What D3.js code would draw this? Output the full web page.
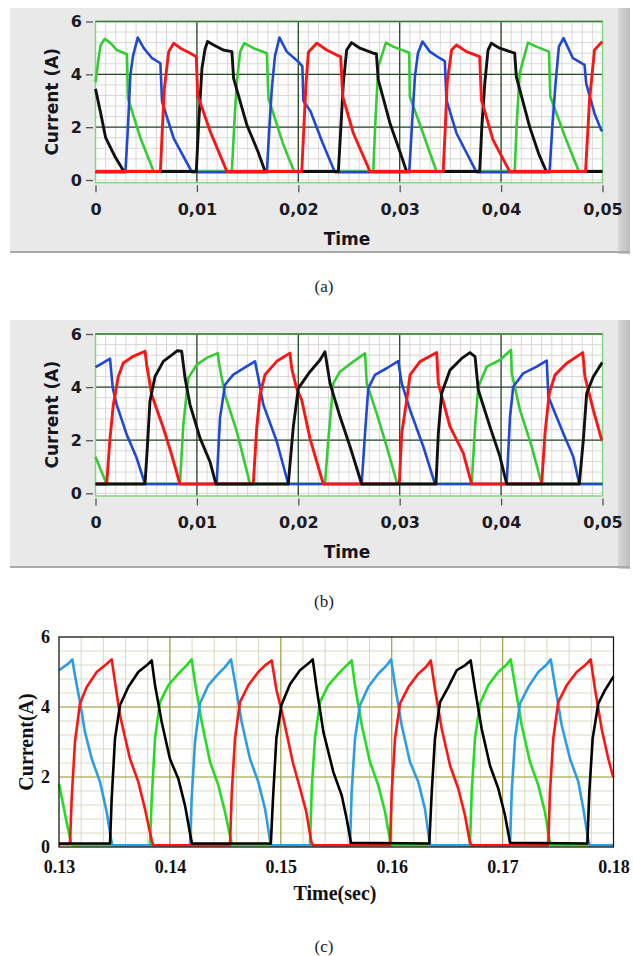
<!DOCTYPE html>
<html lang="en">
<head>
<meta charset="utf-8">
<title>Phase currents</title>
<script src="https://d3js.org/d3.v7.min.js"></script>
<style>
  body { margin: 0; background: #fff; }
  svg { display: block; }
</style>
</head>
<body>
<script>
// ---- data: [time (ms), current (A)] ----
var aGreen = [[0,3.7],[0.3,4.6],[0.5,5.1],[0.9,5.34],[1.5,5.18],[2.1,4.92],[3.1,4.76],[3.2,3.1],[4.43,1.59],[5.74,0.32],
  [13.45,0.32],[13.7,2.2],[13.94,3.72],[14.27,4.86],[14.67,5.18],[15.58,4.99],[16.9,4.8],[17.06,3.09],[18.53,1.33],[19.59,0.32],
  [27.39,0.32],[27.6,2.2],[27.89,4.29],[28.64,5.2],[29.36,5.05],[30.94,4.82],[31.0,3.16],[32.3,1.77],[33.63,0.32],
  [41.34,0.32],[41.55,2.2],[41.83,4.04],[42.65,5.2],[43.47,5.05],[44.72,4.86],[44.85,3.16],[46.42,1.52],[47.67,0.32],[50,0.32]];
var aBlue = [[0,0.3],[2.95,0.3],[3.2,2.0],[3.44,3.98],[3.7,4.7],[4.17,5.39],[4.76,4.99],[5.58,4.61],[6.4,4.42],[6.56,2.97],[7.71,1.58],[9.51,0.3],
  [16.9,0.3],[17.15,2.0],[17.39,3.47],[17.7,4.7],[18.14,5.39],[18.86,4.86],[20.0,4.48],[20.4,4.3],[20.5,3.0],[21.2,2.6],[22.4,1.4],[23.6,0.3],
  [30.94,0.3],[31.2,2.0],[31.5,3.91],[31.8,4.8],[32.25,5.24],[32.97,4.86],[33.96,4.61],[34.45,4.5],[34.61,3.03],[35.6,1.77],[37.57,0.3],
  [44.78,0.3],[45.05,2.0],[45.37,3.66],[45.7,5.05],[46.16,5.37],[47.08,4.61],[48.23,4.36],[48.39,3.66],[49.21,2.52],[49.87,1.89],[50,1.85]];
var aRed = [[0,0.32],[6.4,0.32],[6.6,2.0],[6.79,3.47],[7.22,4.86],[7.71,5.18],[8.37,4.99],[9.35,4.8],[9.94,4.67],[10.07,3.22],[11.32,1.83],[12.96,0.32],
  [20.34,0.32],[20.55,2.0],[20.75,3.6],[21.0,4.85],[21.82,5.18],[22.8,4.92],[23.79,4.73],[24.18,4.67],[24.38,3.16],[25.43,1.77],[27.07,0.32],
  [34.29,0.32],[34.5,2.0],[34.68,3.66],[35.11,4.92],[35.6,5.11],[36.58,4.86],[37.89,4.67],[38.06,3.03],[39.2,1.52],[40.85,0.32],
  [48.33,0.32],[48.72,3.03],[49.21,4.92],[49.87,5.2],[50,5.22]];
var aBlack = [[0,3.45],[0.5,2.55],[1.0,1.6],[1.9,0.9],[2.8,0.32],
  [9.94,0.32],[10.2,2.3],[10.5,4.23],[10.8,4.95],[11.05,5.24],[11.65,5.11],[12.6,4.92],[13.45,4.86],[13.62,3.85],[14.93,2.08],[16.0,1.1],[16.73,0.32],
  [23.95,0.32],[24.2,2.0],[24.44,3.66],[24.77,4.92],[25.26,5.2],[26.08,4.99],[27.39,4.8],[27.7,4.78],[27.89,3.79],[29.04,2.15],[30.0,1.1],[30.68,0.32],
  [37.89,0.32],[38.1,2.0],[38.39,3.66],[38.71,4.92],[39.04,5.18],[39.86,4.99],[41.34,4.8],[41.5,3.91],[42.81,2.02],[43.7,1.0],[44.46,0.32],[50,0.32]];

var bGreen = [[0,1.38],[0.5,0.9],[1.1,0.35],
  [8.33,0.35],[8.66,2.58],[9.15,4.34],[9.98,4.84],[10.97,5.1],[12.05,5.28],[12.21,4.84],[12.77,3.71],[13.93,2.33],[15.24,0.35],
  [22.63,0.35],[22.96,2.01],[23.45,4.14],[24.11,4.58],[25.42,4.96],[26.58,5.27],[26.75,4.14],[27.73,3.01],[28.72,1.76],[29.76,0.35],
  [37.1,0.35],[37.43,2.51],[37.75,4.01],[38.58,4.77],[39.89,5.02],[40.98,5.4],[41.05,4.52],[41.86,3.14],[43.02,1.76],[44.0,0.35],[50,0.35]];
var bBlue = [[0,4.75],[0.7,4.9],[1.43,5.07],[1.7,3.97],[2.09,3.34],[3.08,2.21],[4.06,1.33],[4.88,0.35],
  [11.95,0.35],[12.28,2.84],[12.77,4.09],[13.59,4.47],[14.91,4.78],[15.73,4.97],[16.06,4.34],[16.55,3.34],[17.87,1.96],[19.01,0.35],
  [26.25,0.35],[26.58,2.26],[26.9,3.95],[27.56,4.46],[28.72,4.71],[29.86,4.98],[30.2,4.14],[31.02,3.14],[32.33,1.76],[33.48,0.35],
  [40.55,0.35],[40.88,2.89],[41.2,4.01],[42.19,4.52],[43.51,4.77],[44.5,5.0],[44.66,3.64],[46.13,2.26],[47.12,1.38],[47.71,0.35],[50,0.35]];
var bRed = [[0,0.35],[1.1,0.35],[1.43,2.08],[1.76,3.34],[2.25,4.4],[2.74,4.91],[3.73,5.16],[4.88,5.35],[5.05,4.84],[5.54,3.71],[6.69,2.46],[7.51,1.45],[8.33,0.35],
  [15.56,0.35],[15.9,2.46],[16.22,3.71],[16.72,4.47],[17.87,4.97],[19.18,5.28],[19.35,4.7],[19.8,4.0],[20.34,3.51],[21.15,2.07],[22.0,0.95],[22.47,0.35],
  [29.96,0.35],[30.2,2.26],[30.69,3.51],[31.02,4.46],[32.0,4.96],[33.65,5.3],[33.81,4.14],[34.96,2.51],[36.27,1.51],[37.1,0.35],
  [44.0,0.35],[44.33,2.26],[44.75,3.77],[45.32,4.46],[46.47,4.9],[48.05,5.3],[48.27,4.39],[49.09,3.14],[49.92,2.01],[50,2.0]];
var bBlack = [[0,0.35],[4.88,0.35],[5.11,1.71],[5.37,3.47],[5.87,4.4],[6.69,4.97],[7.67,5.25],[8.07,5.37],[8.5,5.35],[8.83,4.34],[9.32,3.34],[10.31,2.08],[11.29,1.19],[11.88,0.35],
  [19.01,0.35],[19.51,2.51],[20.0,3.95],[21.15,4.58],[22.14,5.02],[22.63,5.33],[23.13,4.14],[24.11,2.89],[25.1,1.76],[26.25,0.35],
  [33.58,0.35],[33.81,2.26],[34.14,3.77],[34.96,4.64],[36.11,5.08],[36.93,5.3],[37.43,5.15],[37.75,3.89],[38.9,2.51],[39.89,1.38],[40.55,0.35],
  [47.71,0.35],[48.11,2.01],[48.44,3.77],[49.09,4.39],[49.92,4.9],[50,4.92]];

var cGreen = [[130,1.81],[130.69,0.71],[131.08,0.14],[131.2,0.05],
  [138.2,0.05],[138.36,1.38],[138.66,3.1],[139.1,4.14],[139.86,4.62],[140.76,4.95],[141.51,5.19],[141.96,5.36],[142.26,4.71],[142.87,3.57],[143.62,2.43],[144.37,1.76],[144.97,1.0],[145.51,0.19],[145.6,0.05],
  [152.63,0.05],[152.79,1.67],[153.08,3.1],[153.53,4.14],[154.28,4.62],[155.19,4.95],[155.94,5.19],[156.39,5.33],[156.69,4.62],[157.3,3.48],[158.04,2.43],[158.79,1.76],[159.4,1.0],[159.85,0.19],[159.95,0.05],
  [167.06,0.05],[167.21,1.57],[167.51,3.1],[167.96,4.1],[168.71,4.62],[169.61,5.0],[170.31,5.19],[170.73,5.36],[171.12,4.62],[171.72,3.48],[172.47,2.43],[173.22,1.76],[173.82,1.0],[174.27,0.12],[174.4,0.05],[180,0.05]];
var cBlue = [[130,5.05],[130.84,5.24],[131.2,5.36],[131.44,4.9],[131.89,4.14],[132.34,3.29],[132.95,2.52],[133.7,1.86],[134.3,1.0],[134.69,0.24],[134.8,0.05],
  [141.81,0.05],[141.96,1.38],[142.26,3.0],[142.71,4.1],[143.46,4.62],[144.37,4.95],[144.97,5.14],[145.51,5.36],[145.87,4.71],[146.47,3.57],[147.22,2.52],[147.97,1.86],[148.58,1.09],[149.03,0.19],[149.15,0.05],
  [156.24,0.05],[156.39,1.57],[156.69,3.1],[157.14,4.05],[157.89,4.57],[158.79,4.95],[159.55,5.19],[159.94,5.36],[160.3,4.62],[160.9,3.48],[161.65,2.43],[162.4,1.86],[163.0,1.09],[163.39,0.19],[163.5,0.05],
  [170.67,0.05],[170.82,1.57],[171.12,3.1],[171.57,4.1],[172.32,4.57],[173.22,5.0],[173.91,5.19],[174.34,5.36],[174.72,4.62],[175.33,3.48],[176.08,2.52],[176.83,1.86],[177.28,1.09],[177.73,0.19],[177.85,0.05],[180,0.05]];
var cRed = [[130,0.08],[130.99,0.08],[131.14,1.38],[131.44,3.0],[131.89,4.1],[132.5,4.57],[133.4,5.0],[134.15,5.19],[134.75,5.36],[135.05,4.71],[135.5,3.76],[136.4,2.52],[137.15,1.86],[137.75,1.09],[138.36,0.19],[138.5,0.05],
  [145.42,0.05],[145.57,1.5],[145.87,3.1],[146.32,4.14],[147.07,4.62],[147.97,5.0],[148.58,5.19],[149.18,5.33],[149.6,4.5],[150.2,3.72],[151.1,2.4],[151.8,1.6],[152.3,1.0],[152.75,0.15],[152.9,0.05],
  [159.85,0.05],[160.0,1.57],[160.3,3.1],[160.75,4.1],[161.5,4.57],[162.4,4.95],[163.09,5.14],[163.52,5.33],[163.9,4.52],[164.51,3.38],[165.26,2.33],[166.0,1.67],[166.61,0.9],[167.06,0.12],[167.2,0.05],
  [174.12,0.05],[174.27,1.57],[174.57,3.1],[175.02,4.14],[175.78,4.62],[176.68,5.0],[177.43,5.19],[177.94,5.36],[178.33,4.52],[178.93,3.38],[179.53,2.52],[179.93,2.05],[180,2.0]];
var cBlack = [[130,0.1],[134.6,0.1],[134.75,1.38],[135.05,3.1],[135.5,4.05],[136.25,4.57],[137.15,5.0],[137.91,5.19],[138.36,5.33],[138.66,4.62],[139.26,3.57],[140.0,2.52],[140.76,1.95],[141.36,1.19],[141.9,0.24],[142.0,0.1],
  [149.1,0.1],[149.3,1.4],[149.6,3.1],[150.05,4.05],[150.83,4.65],[151.73,5.05],[152.48,5.24],[152.88,5.36],[153.24,4.52],[153.84,3.29],[154.74,2.14],[155.49,1.48],[155.94,0.81],[156.33,0.12],
  [163.39,0.1],[163.61,1.57],[163.9,3.1],[164.36,4.14],[165.1,4.57],[165.86,5.05],[166.61,5.19],[167.12,5.33],[167.51,4.52],[168.11,3.38],[168.86,2.33],[169.61,1.67],[170.22,0.9],[170.67,0.12],
  [177.64,0.1],[177.82,1.57],[178.12,3.1],[178.63,4.1],[179.23,4.48],[179.98,4.86],[180,4.87]];

// ---- ticks ----
var abXTicks = [0, 0.01, 0.02, 0.03, 0.04, 0.05];
var abXLabels = ["0", "0,01", "0,02", "0,03", "0,04", "0,05"];
var cXTicks = [0.13, 0.14, 0.15, 0.16, 0.17, 0.18];
var cXLabels = ["0.13", "0.14", "0.15", "0.16", "0.17", "0.18"];
var yTicks = [0, 2, 4, 6];

var W = 633, H = 956;
var svg = d3.select("body").append("svg").attr("width", W).attr("height", H);

var defs = svg.append("defs");
var grad = defs.append("linearGradient").attr("id", "bevel").attr("x1", 0).attr("x2", 1);
grad.append("stop").attr("offset", "0%").attr("stop-color", "#d8d8d8");
grad.append("stop").attr("offset", "100%").attr("stop-color", "#bdbdbd");

var line = function(x, y) {
    return d3.line().x(function(d) { return x(d[0] / 1000); }).y(function(d) { return y(d[1]); });
};

// LabVIEW-style panels (a) and (b)
function lvPanel(top, bottom, yTop, yZero, series) {
    var g = svg.append("g");
    g.append("rect").attr("x", 10).attr("y", top).attr("width", 612).attr("height", bottom - top).attr("fill", "#e9e9e9");
    g.append("rect").attr("x", 618).attr("y", top).attr("width", 12).attr("height", bottom - top + 2).attr("fill", "url(#bevel)");
    g.append("line").attr("x1", 10).attr("x2", 630).attr("y1", bottom).attr("y2", bottom).attr("stroke", "#a9a9a9").attr("stroke-width", 2);

    var x = d3.scaleLinear().domain([0, 0.05]).range([95.5, 602.5]);
    var y = d3.scaleLinear().domain([0, 6]).range([yZero, yTop]);
    var pb = y(-0.1);

    g.append("rect").attr("x", x(0)).attr("y", y(6)).attr("width", x(0.05) - x(0)).attr("height", pb - y(6)).attr("fill", "#fff");

    // minor grid
    g.append("g").selectAll("line").data(d3.range(0, 50.5, 1).map(function(d) { return d / 1000; }))
        .enter().append("line")
        .attr("x1", function(d) { return x(d); }).attr("x2", function(d) { return x(d); })
        .attr("y1", y(6)).attr("y2", pb).attr("stroke", "#dcd6d6").attr("stroke-width", 1);
    g.append("g").selectAll("line").data(d3.range(0, 6.01, 0.4))
        .enter().append("line")
        .attr("x1", x(0)).attr("x2", x(0.05))
        .attr("y1", function(d) { return y(d); }).attr("y2", function(d) { return y(d); })
        .attr("stroke", "#dcd6d6").attr("stroke-width", 1);
    // major grid
    g.append("g").selectAll("line").data(abXTicks.slice(1, 5))
        .enter().append("line")
        .attr("x1", function(d) { return x(d); }).attr("x2", function(d) { return x(d); })
        .attr("y1", y(6)).attr("y2", pb).attr("stroke", "#244a24").attr("stroke-width", 1.3);
    g.append("g").selectAll("line").data([2, 4])
        .enter().append("line")
        .attr("x1", x(0)).attr("x2", x(0.05))
        .attr("y1", function(d) { return y(d); }).attr("y2", function(d) { return y(d); })
        .attr("stroke", "#244a24").attr("stroke-width", 1.3);

    g.append("rect").attr("x", x(0)).attr("y", y(6)).attr("width", x(0.05) - x(0)).attr("height", pb - y(6))
        .attr("fill", "none").attr("stroke", "#7fd87f").attr("stroke-width", 1.5);
    g.append("line").attr("x1", x(0)).attr("x2", x(0.05)).attr("y1", y(6)).attr("y2", y(6))
        .attr("stroke", "#3c7a3c").attr("stroke-width", 1.3);

    series.forEach(function(s) {
        g.append("path").datum(s.data).attr("d", line(x, y))
            .attr("fill", "none").attr("stroke", s.color).attr("stroke-width", s.w)
            .attr("stroke-linejoin", "round");
    });

    // axes
    var yAxis = g.append("g").attr("transform", "translate(" + (x(0) - 2.5) + ",0)")
        .call(d3.axisLeft(y).tickValues(yTicks).tickSize(7).tickPadding(4).tickFormat(d3.format("d")));
    var xAxis = g.append("g").attr("transform", "translate(0," + (pb + 2.5) + ")")
        .call(d3.axisBottom(x).tickValues(abXTicks).tickSize(7).tickFormat(function(d, i) { return abXLabels[i]; }));
    [yAxis, xAxis].forEach(function(a) {
        a.select(".domain").remove();
        a.selectAll(".tick line").attr("stroke", "#555").attr("stroke-width", 1.3);
        a.selectAll("text").attr("fill", "#1b1b25").attr("font-family", "DejaVu Sans").attr("font-weight", "bold").attr("font-size", 16);
    });
    // tick labels sit 35px under the zero line
    xAxis.selectAll("text").attr("y", (yZero + 35) - (pb + 2.5)).attr("dy", 0);

    g.append("text").attr("transform", "translate(58," + ((yTop + yZero) / 2 + 1) + ") rotate(-90)")
        .attr("text-anchor", "middle").attr("font-family", "DejaVu Sans").attr("font-weight", "bold")
        .attr("font-size", 17).attr("fill", "#15151d").text("Current (A)");
    g.append("text").attr("x", 347).attr("y", yZero + 65)
        .attr("text-anchor", "middle").attr("font-family", "DejaVu Sans").attr("font-weight", "bold")
        .attr("font-size", 17).attr("fill", "#15151d").text("Time");
}

var lvGreen = "#33cc33", lvBlue = "#1f48d4", lvRed = "#fa1616", lvBlack = "#111";

lvPanel(8, 252, 21.5, 180, [
    {data: aGreen, color: lvGreen, w: 2.6},
    {data: aBlue, color: lvBlue, w: 2.6},
    {data: aBlack, color: lvBlack, w: 2.9},
    {data: aRed, color: lvRed, w: 2.9}
]);
lvPanel(320, 567, 334, 493.3, [
    {data: bGreen, color: lvGreen, w: 2.6},
    {data: bBlue, color: lvBlue, w: 2.6},
    {data: bRed, color: lvRed, w: 2.9},
    {data: bBlack, color: lvBlack, w: 2.9}
]);

// paper-style panel (c)
(function() {
    var g = svg.append("g");
    var x = d3.scaleLinear().domain([0.13, 0.18]).range([59, 613.5]);
    var y = d3.scaleLinear().domain([0, 6]).range([847, 637]);

    g.append("g").selectAll("line").data(d3.range(130, 180.1, 2).map(function(d) { return d / 1000; }))
        .enter().append("line")
        .attr("x1", function(d) { return x(d); }).attr("x2", function(d) { return x(d); })
        .attr("y1", y(6)).attr("y2", y(0)).attr("stroke", "#d9d9bf").attr("stroke-width", 1);
    g.append("g").selectAll("line").data(d3.range(0, 6.01, 0.4))
        .enter().append("line")
        .attr("x1", x(0.13)).attr("x2", x(0.18))
        .attr("y1", function(d) { return y(d); }).attr("y2", function(d) { return y(d); })
        .attr("stroke", "#d9d9bf").attr("stroke-width", 1);
    g.append("g").selectAll("line").data(cXTicks.slice(1, 5))
        .enter().append("line")
        .attr("x1", function(d) { return x(d); }).attr("x2", function(d) { return x(d); })
        .attr("y1", y(6)).attr("y2", y(0)).attr("stroke", "#a3a34e").attr("stroke-width", 1.2);
    g.append("g").selectAll("line").data([2, 4])
        .enter().append("line")
        .attr("x1", x(0.13)).attr("x2", x(0.18))
        .attr("y1", function(d) { return y(d); }).attr("y2", function(d) { return y(d); })
        .attr("stroke", "#a3a34e").attr("stroke-width", 1.2);

    [{data: cGreen, color: "#22de22"}, {data: cBlue, color: "#2b9de6"},
     {data: cRed, color: "#ff1414"}, {data: cBlack, color: "#000"}].forEach(function(s) {
        g.append("path").datum(s.data).attr("d", line(x, y))
            .attr("fill", "none").attr("stroke", s.color).attr("stroke-width", 2.6)
            .attr("stroke-linejoin", "round");
    });

    g.append("rect").attr("x", x(0.13)).attr("y", y(6)).attr("width", x(0.18) - x(0.13)).attr("height", y(0) - y(6))
        .attr("fill", "none").attr("stroke", "#111").attr("stroke-width", 1.2);

    var yAxis = g.append("g").attr("transform", "translate(" + x(0.13) + ",0)")
        .call(d3.axisLeft(y).tickValues(yTicks).tickSize(0).tickPadding(9).tickFormat(d3.format("d")));
    var xAxis = g.append("g").attr("transform", "translate(0," + y(0) + ")")
        .call(d3.axisBottom(x).tickValues(cXTicks).tickSize(0).tickFormat(function(d, i) { return cXLabels[i]; }));
    [yAxis, xAxis].forEach(function(a) {
        a.select(".domain").remove();
        a.selectAll("text").attr("fill", "#111").attr("font-family", "Liberation Serif").attr("font-weight", "bold").attr("font-size", 18);
    });
    xAxis.selectAll("text").attr("y", 26).attr("dy", 0);

    g.append("text").attr("transform", "translate(33,742) rotate(-90)")
        .attr("text-anchor", "middle").attr("font-family", "Liberation Serif").attr("font-weight", "bold")
        .attr("font-size", 20).attr("fill", "#111").text("Current(A)");
    g.append("text").attr("x", 335).attr("y", 900)
        .attr("text-anchor", "middle").attr("font-family", "Liberation Serif").attr("font-weight", "bold")
        .attr("font-size", 20).attr("fill", "#111").text("Time(sec)");
})();

// captions
[["(a)", 292], ["(b)", 607], ["(c)", 952]].forEach(function(c) {
    svg.append("text").attr("x", 324).attr("y", c[1]).attr("text-anchor", "middle")
        .attr("font-family", "Liberation Serif").attr("font-size", 17).attr("fill", "#222").text(c[0]);
});
</script>
</body>
</html>
